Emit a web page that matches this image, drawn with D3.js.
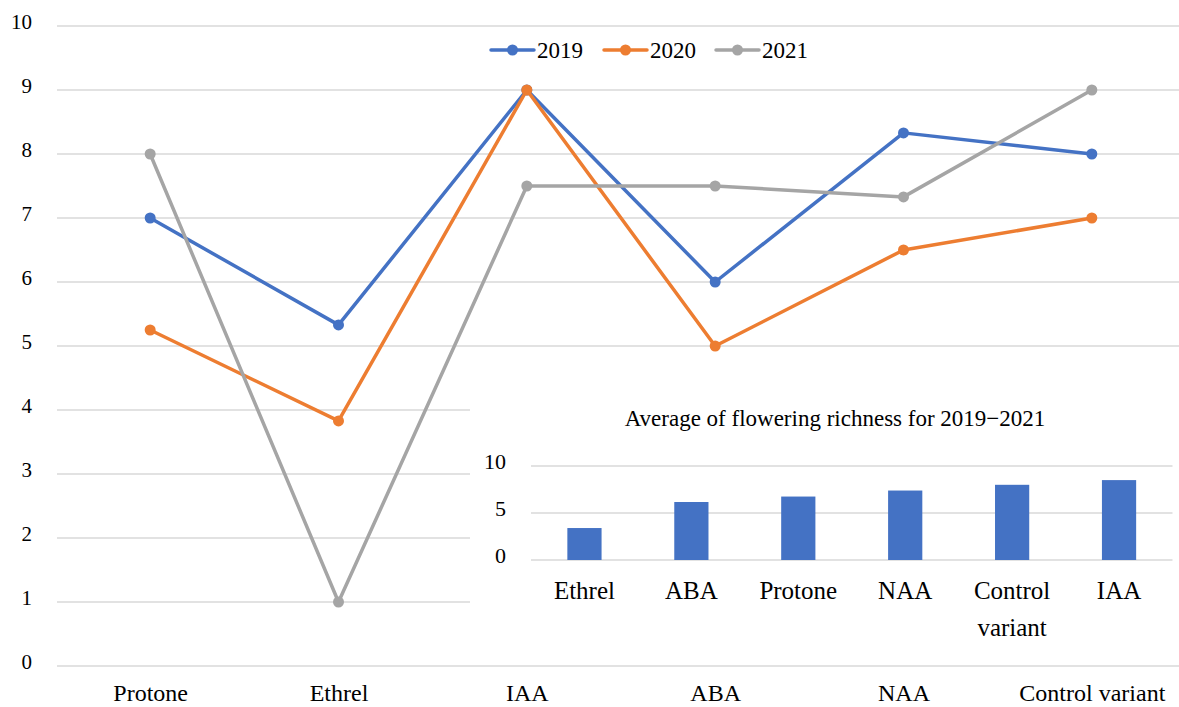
<!DOCTYPE html>
<html>
<head>
<meta charset="utf-8">
<script src="https://cdn.jsdelivr.net/npm/d3@7"></script>
<style>
  html, body { margin: 0; padding: 0; background: #fff; }
  svg { display: block; }
  text { font-family: "Liberation Serif", "Times New Roman", serif; fill: #000; }
</style>
</head>
<body>
<svg id="chart" width="1179" height="707"></svg>
<script>
// ---- data ----
const categories = ["Protone", "Ethrel", "IAA", "ABA", "NAA", "Control variant"];
const years = ["2019", "2020", "2021"];
const values2019 = [7, 5.33, 9, 6, 8.33, 8];
const values2020 = [5.25, 3.83, 9, 5, 6.5, 7];
const values2021 = [8, 1, 7.5, 7.5, 7.33, 9];
const yTicks = [0, 1, 2, 3, 4, 5, 6, 7, 8, 9, 10];
const colors = ["#4472C4", "#ED7D31", "#A5A5A5"];

const insetTitle = "Average of flowering richness for 2019\u22122021";
const insetCategories = ["Ethrel", "ABA", "Protone", "NAA", "Control variant", "IAA"];
const insetValues = [3.4, 6.17, 6.75, 7.39, 8, 8.5];
const insetTicks = [0, 5, 10];

const series = [values2019, values2020, values2021];
const FONT = '"Liberation Serif", "Times New Roman", serif';

const svg = d3.select("#chart");
const grid = "#d9d9d9";

// ---- main chart ----
const x = d3.scalePoint().domain(categories).range([56, 1186]).padding(0.5);
const y = d3.scaleLinear().domain([0, 10]).range([666, 26]);

const gGrid = svg.append("g");
gGrid.selectAll("line").data(yTicks).join("line")
  .attr("x1", 57).attr("x2", 1179)
  .attr("y1", d => y(d)).attr("y2", d => y(d))
  .attr("stroke", grid).attr("stroke-width", 1.3);

const yAxis = svg.append("g").attr("transform", "translate(57,0)")
  .call(d3.axisLeft(y).tickValues(yTicks).tickSize(0).tickPadding(25));
yAxis.attr("font-family", FONT).style("font-family", FONT);
yAxis.select(".domain").remove();
yAxis.selectAll("text").style("font-size", "21px").style("font-family", FONT).attr("dy", "0.1em");

const xAxis = svg.append("g").attr("transform", "translate(0,666)")
  .call(d3.axisBottom(x).tickSize(0).tickPadding(18));
xAxis.attr("font-family", FONT).style("font-family", FONT);
xAxis.select(".domain").remove();
xAxis.selectAll("text").style("font-size", "24px").style("font-family", FONT);

const line = d3.line().x((d, i) => x(categories[i])).y(d => y(d));
series.forEach((vals, si) => {
  svg.append("path").datum(vals)
    .attr("d", line).attr("fill", "none")
    .attr("stroke", colors[si]).attr("stroke-width", 3.5)
    .attr("stroke-linejoin", "round").attr("stroke-linecap", "round");
  svg.append("g").selectAll("circle").data(vals).join("circle")
    .attr("cx", (d, i) => x(categories[i])).attr("cy", d => y(d))
    .attr("r", 5.5).attr("fill", colors[si]);
});

// ---- legend ----
const legendX = [491, 604, 716];
years.forEach((yr, i) => {
  const g = svg.append("g").attr("transform", `translate(${legendX[i]},50)`);
  g.append("line").attr("x1", 0).attr("x2", 43).attr("y1", 0).attr("y2", 0)
    .attr("stroke", colors[i]).attr("stroke-width", 3.5).attr("stroke-linecap", "round");
  g.append("circle").attr("cx", 21.5).attr("cy", 0).attr("r", 5.5).attr("fill", colors[i]);
  g.append("text").attr("x", 46).attr("y", 0).attr("dy", "0.33em")
    .style("font-size", "23px").style("font-family", FONT).text(yr);
});

// ---- inset ----
svg.append("rect").attr("x", 470).attr("y", 392).attr("width", 709).attr("height", 258).attr("fill", "#fff");

svg.append("text").attr("x", 835).attr("y", 418).attr("dy", "0.33em")
  .attr("text-anchor", "middle").style("font-size", "23px").style("font-family", FONT).text(insetTitle);

const ix = d3.scaleBand().domain(insetCategories).range([531, 1172.5])
  .paddingInner(0.68).paddingOuter(0.34);
const iy = d3.scaleLinear().domain([0, 10]).range([560, 466]);

svg.append("g").selectAll("line").data(insetTicks).join("line")
  .attr("x1", 531).attr("x2", 1172.5)
  .attr("y1", d => iy(d)).attr("y2", d => iy(d))
  .attr("stroke", grid).attr("stroke-width", 1.3);

const iyAxis = svg.append("g").attr("transform", "translate(531,0)")
  .call(d3.axisLeft(iy).tickValues(insetTicks).tickSize(0).tickPadding(25));
iyAxis.attr("font-family", FONT).style("font-family", FONT);
iyAxis.select(".domain").remove();
iyAxis.selectAll("text").style("font-size", "22px").style("font-family", FONT).attr("dy", "0.1em");

svg.append("g").selectAll("rect").data(insetValues).join("rect")
  .attr("x", (d, i) => ix(insetCategories[i]))
  .attr("width", ix.bandwidth())
  .attr("y", d => iy(d))
  .attr("height", d => iy(0) - iy(d))
  .attr("fill", "#4472C4");

const ixLabels = svg.append("g");
insetCategories.forEach(c => {
  const words = c.split(" ");
  const t = ixLabels.append("text").attr("text-anchor", "middle")
    .attr("x", ix(c) + ix.bandwidth() / 2).attr("y", 591)
    .style("font-size", "25px").style("font-family", FONT);
  words.forEach((w, k) => {
    t.append("tspan").attr("x", ix(c) + ix.bandwidth() / 2)
      .attr("dy", k === 0 ? "0.33em" : "1.48em").text(w);
  });
});
</script>
</body>
</html>
